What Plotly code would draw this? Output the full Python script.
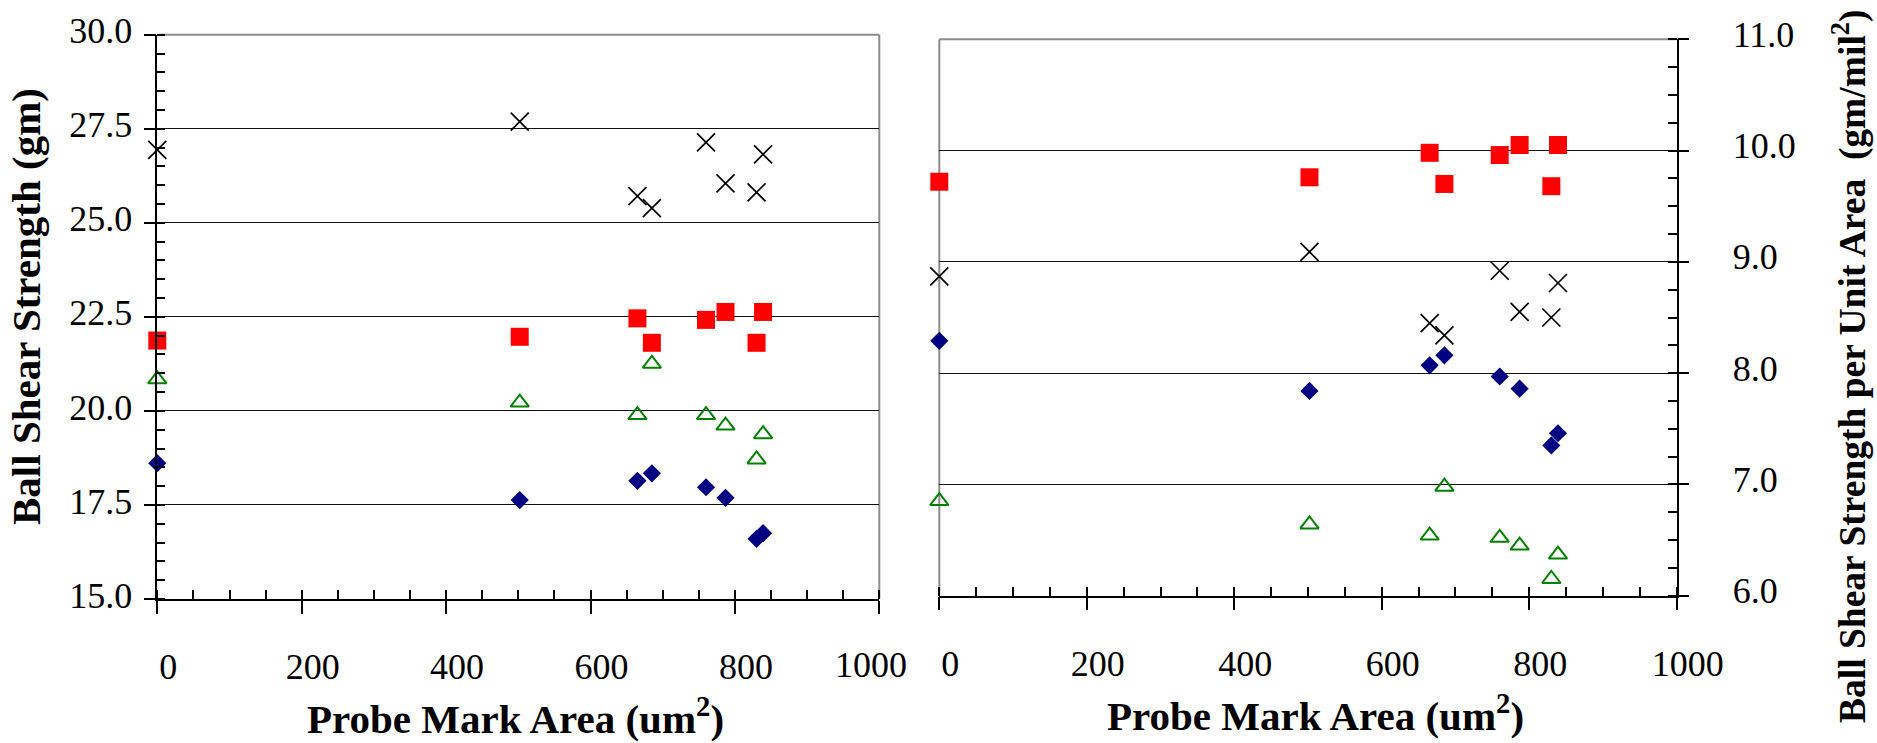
import plotly.graph_objects as go

# Probe mark area (um^2) of each test group
probe_area = [0, 502, 665, 685, 760, 787, 830, 839]

# Ball shear strength (gm)
bss_diamond = [18.61, 17.63, 18.14, 18.34, 17.97, 17.69, 16.60, 16.75]
bss_square = [21.87, 21.97, 22.46, 21.81, 22.42, 22.63, 21.81, 22.63]
bss_triangle = [20.84, 20.22, 19.89, 21.25, 19.89, 19.61, 18.71, 19.38]
bss_cross = [26.94, 27.69, 25.71, 25.39, 27.14, 26.05, 25.81, 26.82]

# Ball shear strength per unit area (gm/mil^2)
bssa_diamond = [8.29, 7.84, 8.07, 8.16, 7.97, 7.86, 7.35, 7.46]
bssa_square = [9.72, 9.76, 9.98, 9.70, 9.96, 10.05, 9.68, 10.05]
bssa_triangle = [6.85, 6.64, 6.54, 6.98, 6.52, 6.45, 6.15, 6.37]
bssa_cross = [8.87, 9.09, 8.45, 8.34, 8.92, 8.55, 8.50, 8.81]

x_ticks = [0, 200, 400, 600, 800, 1000]

W, H = 1877, 743
FONT = "Liberation Serif"
GRAY = "#8c8c8c"


def fx(px):
    return px / W


def fy(py):
    return 1 - py / H


styles = [
    dict(symbol="diamond", size=14, color="#000080", line=dict(width=0)),
    dict(symbol="square", size=18, color="#ff0000", line=dict(width=0)),
    dict(symbol="triangle-up-open", size=16, color="#008000", line=dict(width=2, color="#008000")),
    dict(symbol="x-thin", size=18, color="black", line=dict(width=1.7, color="black")),
]

fig = go.Figure()
left_series = [bss_diamond, bss_square, bss_triangle, bss_cross]
right_series = [bssa_diamond, bssa_square, bssa_triangle, bssa_cross]
for vals, st in zip(left_series, styles):
    fig.add_trace(go.Scatter(x=probe_area, y=vals, mode="markers", marker=st,
                             xaxis="x", yaxis="y", showlegend=False, cliponaxis=False))
for vals, st in zip(right_series, styles):
    fig.add_trace(go.Scatter(x=probe_area, y=vals, mode="markers", marker=st,
                             xaxis="x2", yaxis="y2", showlegend=False, cliponaxis=False))

tickfont = dict(family=FONT, size=36, color="black")

xcommon = dict(range=[0, 1000], tickvals=x_ticks, ticks="outside", ticklen=13,
               tickwidth=1.5, tickcolor="black", showline=True, linecolor="black",
               linewidth=1.5, showgrid=False, zeroline=False, tickfont=tickfont,
               ticklabelshift=11, ticklabelstandoff=22, automargin=False,
               minor=dict(dtick=50, tick0=0, ticks="inside", ticklen=9,
                          tickwidth=1.5, tickcolor="black", showgrid=False))

fig.update_layout(
    width=W, height=H, margin=dict(l=0, r=0, t=0, b=0, autoexpand=False),
    paper_bgcolor="white", plot_bgcolor="white",
    font=dict(family=FONT, color="black"),
    xaxis=dict(domain=[fx(157.3), fx(879.3)], anchor="y",
               ticktext=["0", "200", "400", "600", "800", ""], **xcommon),
    yaxis=dict(domain=[fy(599), fy(34.7)], anchor="x", range=[15, 30],
               tick0=15, dtick=2.5, tickformat=".1f", ticks="outside", ticklen=12,
               tickwidth=1.5, tickcolor="black", showline=True, linecolor="black",
               linewidth=1.5, showgrid=True, gridcolor="#111", gridwidth=1,
               zeroline=False, tickfont=tickfont, ticklabelshift=-4,
               ticklabelstandoff=4, automargin=False,
               minor=dict(dtick=0.5, tick0=15, ticks="inside", ticklen=8,
                          tickwidth=1.5, tickcolor="black", showgrid=False)),
    xaxis2=dict(domain=[fx(939.3), fx(1676.7)], anchor="y2",
                ticktext=[str(v) for v in x_ticks], **xcommon),
    yaxis2=dict(domain=[fy(595.7), fy(39.3)], anchor="x2", side="right",
                range=[6, 11], tick0=6, dtick=1, tickformat=".1f",
                ticks="outside", ticklen=11, tickwidth=1.5, tickcolor="black",
                showline=True, linecolor="black", linewidth=1.5,
                showgrid=True, gridcolor="#111", gridwidth=1, zeroline=False,
                tickfont=tickfont, ticklabelshift=-5, ticklabelstandoff=36,
                automargin=False,
                minor=dict(dtick=0.25, tick0=6, ticks="inside", ticklen=9,
                           tickwidth=1.5, tickcolor="black", showgrid=False)),
)

# gray frame on the open sides of each plot area
border = dict(type="line", layer="below", line=dict(color=GRAY, width=2))
fig.add_shape(xref="x domain", yref="y domain", x0=0, x1=1, y0=1, y1=1, **border)
fig.add_shape(xref="x domain", yref="y domain", x0=1, x1=1, y0=0, y1=1, **border)
fig.add_shape(xref="x2 domain", yref="y2 domain", x0=0, x1=1, y0=1, y1=1, **border)
fig.add_shape(xref="x2 domain", yref="y2 domain", x0=0, x1=0, y0=0, y1=1, **border)

title_font = dict(family=FONT, size=41, color="black")
fig.add_annotation(text="<b>Ball Shear Strength (gm)</b>", textangle=-90,
                   xref="paper", yref="paper", x=fx(26), y=fy(307),
                   xanchor="center", yanchor="middle", showarrow=False, font=title_font)
fig.add_annotation(text="<b>Ball Shear Strength per Unit Area&nbsp; (gm/mil<sup>2</sup>)</b>",
                   textangle=-90, xref="paper", yref="paper", x=fx(1850), y=fy(367),
                   xanchor="center", yanchor="middle", showarrow=False,
                   font=dict(family=FONT, size=37.5, color="black"))
fig.add_annotation(text="<b>Probe Mark Area (um<sup>2</sup>)</b>",
                   xref="paper", yref="paper", x=fx(515), y=fy(716),
                   xanchor="center", yanchor="middle", showarrow=False, font=title_font)
fig.add_annotation(text="<b>Probe Mark Area (um<sup>2</sup>)</b>",
                   xref="paper", yref="paper", x=fx(1315), y=fy(713),
                   xanchor="center", yanchor="middle", showarrow=False, font=title_font)
# last tick label of the left plot sits slightly inside the plot edge
fig.add_annotation(text="1000", xref="x", yref="paper", x=1000, y=fy(665), xshift=-8,
                   xanchor="center", yanchor="middle", showarrow=False, font=tickfont)

fig.write_html("out.html")
